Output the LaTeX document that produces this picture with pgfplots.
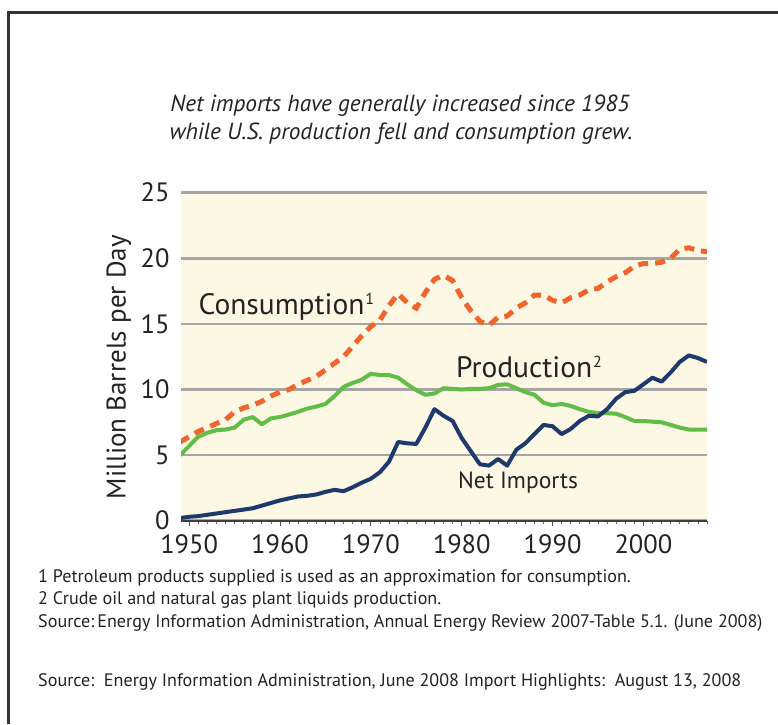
\documentclass[border=0pt]{standalone}
\usepackage{fontspec}
\setmainfont{PT Sans}
\usepackage{pgfplots}
\usepackage{pgfplotstable}
\pgfplotsset{compat=1.18}
\definecolor{bgc}{RGB}{252,248,228}
\definecolor{cons}{RGB}{240,100,45}
\definecolor{prod}{RGB}{98,188,72}
\definecolor{imp}{RGB}{30,58,108}
\definecolor{gridc}{RGB}{165,165,165}
\definecolor{txt}{RGB}{35,35,35}
\newcommand{\fnsup}[1]{\kern0.8pt\raisebox{9.6pt}{\fontsize{16}{16}\selectfont #1}}

\pgfplotstableread{
year cons prod imp
1949 6.0 5.0 0.20
1950 6.4 5.7 0.30
1951 6.8 6.4 0.35
1952 7.1 6.7 0.45
1953 7.4 6.9 0.55
1954 7.7 6.95 0.65
1955 8.3 7.1 0.75
1956 8.6 7.7 0.85
1957 8.8 7.9 0.95
1958 9.1 7.35 1.15
1959 9.5 7.8 1.35
1960 9.8 7.9 1.55
1961 10.0 8.1 1.70
1962 10.4 8.3 1.85
1963 10.7 8.55 1.90
1964 11.0 8.7 2.00
1965 11.5 8.9 2.20
1966 12.0 9.5 2.35
1967 12.5 10.2 2.25
1968 13.3 10.5 2.55
1969 14.1 10.75 2.90
1970 14.8 11.2 3.20
1971 15.3 11.1 3.70
1972 16.4 11.1 4.50
1973 17.3 10.9 6.00
1974 16.6 10.4 5.90
1975 16.2 9.95 5.85
1976 17.4 9.6 7.10
1977 18.4 9.7 8.50
1978 18.7 10.1 8.00
1979 18.3 10.05 7.60
1980 17.0 10.0 6.30
1981 16.0 10.05 5.30
1982 15.2 10.05 4.30
1983 14.9 10.1 4.20
1984 15.5 10.35 4.70
1985 15.6 10.4 4.20
1986 16.2 10.1 5.40
1987 16.6 9.8 5.90
1988 17.2 9.6 6.60
1989 17.2 9.0 7.30
1990 16.8 8.8 7.20
1991 16.6 8.9 6.60
1992 17.0 8.75 7.00
1993 17.2 8.5 7.60
1994 17.6 8.3 8.00
1995 17.7 8.2 7.95
1996 18.2 8.2 8.50
1997 18.6 8.15 9.30
1998 18.9 7.9 9.80
1999 19.4 7.6 9.90
2000 19.6 7.6 10.40
2001 19.6 7.55 10.90
2002 19.7 7.5 10.60
2003 20.0 7.3 11.30
2004 20.7 7.1 12.10
2005 20.8 6.95 12.60
2006 20.6 6.95 12.40
2007 20.5 6.95 12.10
}\data

\begin{document}
\begin{tikzpicture}
\path[use as bounding box] (0pt,0pt) rectangle (778pt,-724pt);
\fill[white] (0pt,0pt) rectangle (778pt,-724pt);
\draw[line width=2.5pt, black!80] (8.3pt,-724pt) -- (8.3pt,-12.3pt) -- (778pt,-12.3pt);

\node[font=\fontsize{23.3}{23.3}\selectfont\itshape, text=txt] at (400pt,-106pt) {Net imports have generally increased since 1985};
\node[font=\fontsize{23.3}{23.3}\selectfont\itshape, text=txt] at (401pt,-134pt) {while U.S. production fell and consumption grew.};

\begin{axis}[
  at={(181pt,-520.7pt)}, anchor=south west,
  width=526pt, height=328pt, scale only axis,
  xmin=1949.1, xmax=2007, ymin=0, ymax=25,
  axis x line*=bottom, axis y line*=left,
  y axis line style={draw=none},
  x axis line style={line width=1.8pt, color=black!75},
  axis background/.style={fill=bgc},
  xtick={1950,1960,...,2000}, minor xtick={1950,1951,...,2007},
  tick align=outside, major tick length=5pt, minor tick length=3pt,
  xtick style={line width=1pt, color=black!70},
  minor x tick style={line width=0.8pt, color=black!60},
  ytick={0,5,...,25}, ytick style={draw=none},
  ymajorgrids, grid style={line width=2.5pt, color=gridc},
  /pgf/number format/assume math mode=true,
  /pgf/number format/set thousands separator={},
  tick label style={font=\fontsize{26.5}{26.5}\selectfont, text=txt},
  xticklabel style={yshift=-5pt},
  yticklabel style={xshift=-3pt},
  ylabel={Million Barrels per Day},
  ylabel style={at={(axis description cs:-0.118,0.468)}, anchor=center, rotate=0, font=\fontsize{27}{27}\selectfont, text=txt},
  clip=true,
]
\addplot[color=prod, line width=4pt, line join=round] table[x=year, y=prod] {\data};
\addplot[color=imp, line width=4pt, line join=round] table[x=year, y=imp] {\data};
\addplot[color=cons, line width=5pt, dash pattern=on 10pt off 7pt] table[x=year, y=cons] {\data};
\node[font=\fontsize{29.5}{29.5}\selectfont, text=txt] at (axis cs:1960.7,16.3) {Consumption\fnsup{1}};
\node[font=\fontsize{29.5}{29.5}\selectfont, text=txt] at (axis cs:1987.4,11.72) {Production\fnsup{2}};
\node[font=\fontsize{23.5}{23.5}\selectfont, text=txt] at (axis cs:1986.2,2.89) {Net Imports};
\end{axis}

\begin{scope}[every node/.style={anchor=west, font=\fontsize{18.1}{18.1}\selectfont, text=txt, inner sep=0pt}]
\node at (38pt,-578pt) {1 Petroleum products supplied is used as an approximation for consumption.};
\node at (38pt,-600pt) {2 Crude oil and natural gas plant liquids production.};
\node at (38pt,-623pt) {Source:\,Energy Information Administration, Annual Energy Review 2007-Table 5.1. (June 2008)};
\node at (38pt,-682pt) {Source:\ \ Energy Information Administration, June 2008 Import Highlights:\ \ August 13, 2008};
\end{scope}
\end{tikzpicture}
\end{document}
